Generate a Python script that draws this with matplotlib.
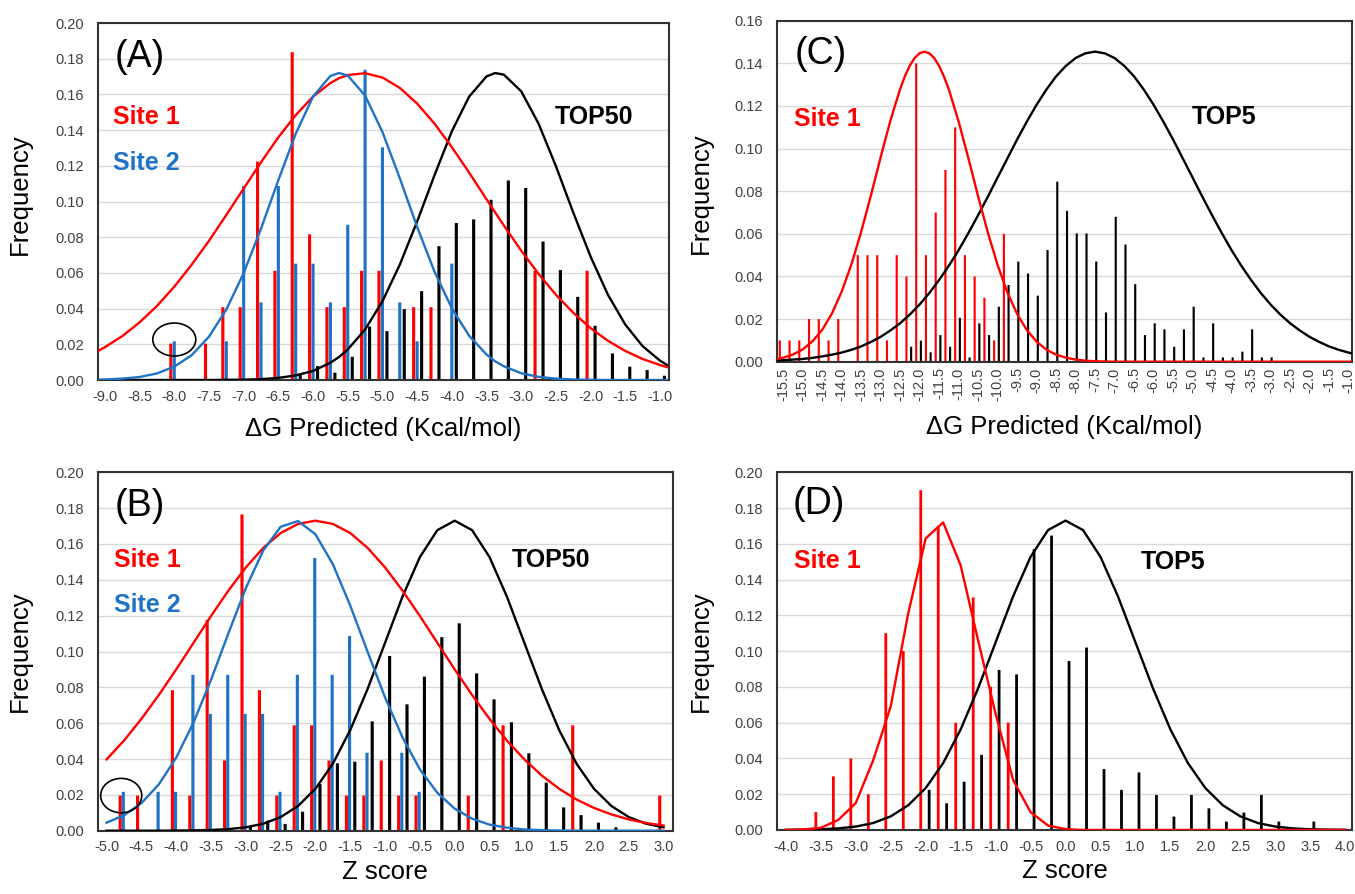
#! /bin/env python3
# plot.py
# four histogram panels (A-D) of docking scores with fitted curves on top

import numpy as np
import matplotlib
matplotlib.use("Agg")
import matplotlib.pyplot as plt
from matplotlib.patches import Ellipse

plt.rcParams['font.family'] = ['Liberation Sans', 'DejaVu Sans']

RED = '#ff0000'
BLUE = '#1f73c6'
BLACK = '#000000'

# ---------------- panel A : dG predicted, TOP50 ----------------
A_red_x = [-8.0, -7.5, -7.25, -7.0, -6.75, -6.5, -6.25, -6.0, -5.75, -5.5,
           -5.25, -5.0, -4.5, -4.25, -2.75, -2.0]
A_red_y = [0.0204, 0.0204, 0.0408, 0.0408, 0.1224, 0.0612, 0.1837, 0.0816, 0.0408, 0.0408,
           0.0612, 0.0612, 0.0408, 0.0408, 0.0612, 0.0612]
A_blue_x = [-8.0, -7.25, -7.0, -6.75, -6.5, -6.25, -6.0, -5.75, -5.5, -5.25,
            -5.0, -4.75, -4.5, -4.0]
A_blue_y = [0.0217, 0.0217, 0.1087, 0.0435, 0.1087, 0.0652, 0.0652, 0.0435, 0.0870, 0.1739,
            0.1304, 0.0435, 0.0217, 0.0652]
A_black_x = [-6.25, -6.0, -5.75, -5.5, -5.25, -5.0, -4.75, -4.5, -4.25, -4.0, -3.75,
             -3.5, -3.25, -3.0, -2.75, -2.5, -2.25, -2.0, -1.75, -1.5, -1.25, -1.0]
A_black_y = [0.0034, 0.0078, 0.0041, 0.0130, 0.0300, 0.0274, 0.0397, 0.0498, 0.0750, 0.0880, 0.0900,
             0.1010, 0.1118, 0.1076, 0.0776, 0.0616, 0.0466, 0.0304, 0.0149, 0.0075, 0.0056, 0.0024]

A_curve_x = [-9.1, -9.0, -8.75, -8.5, -8.25, -8.0, -7.75, -7.5, -7.25, -7.0, -6.75, -6.5,
             -6.25, -6.0, -5.75, -5.625, -5.5, -5.25, -5.0, -4.75, -4.5, -4.25, -4.0, -3.75, -3.5,
             -3.375, -3.25, -3.0, -2.75, -2.5, -2.25, -2.0, -1.75, -1.5, -1.25, -1.0, -0.9]
A_red_curve = [0.0163, 0.0184, 0.0246, 0.0323, 0.0415, 0.0523, 0.0646, 0.0780, 0.0925, 0.1073, 0.1220, 0.1360,
               0.1484, 0.1588, 0.1664, 0.1691, 0.1709, 0.1719, 0.1695, 0.1637, 0.1549, 0.1437, 0.1305, 0.1162, 0.1013,
               0.0939, 0.0866, 0.0725, 0.0595, 0.0478, 0.0377, 0.0291, 0.0220, 0.0163, 0.0118, 0.0084, 0.0073]
A_blue_curve = [0.0002, 0.0003, 0.0008, 0.0017, 0.0037, 0.0075, 0.0139, 0.0243, 0.0395, 0.0599, 0.0848, 0.1120,
                0.1380, 0.1588, 0.1704, 0.1720, 0.1706, 0.1594, 0.1390, 0.1131, 0.0858, 0.0608, 0.0402, 0.0248, 0.0143,
                0.0105, 0.0077, 0.0038, 0.0018, 0.0008, 0.0003, 0.0001, 0.0, 0.0, 0.0, 0.0, 0.0]
A_black_curve = [0.0, 0.0, 0.0, 0.0, 0.0, 0.0, 0.0, 0.0, 0.0001, 0.0002, 0.0005, 0.0012,
                 0.0026, 0.0051, 0.0097, 0.0129, 0.0171, 0.0283, 0.0441, 0.0646, 0.0888, 0.1147, 0.1393, 0.1588, 0.1701,
                 0.1720, 0.1711, 0.1618, 0.1437, 0.1199, 0.0939, 0.0692, 0.0478, 0.0311, 0.0190, 0.0109, 0.0085]

# ---------------- panel B : Z score, TOP50 ----------------
B_red_x = [-4.75, -4.5, -4.0, -3.75, -3.5, -3.25, -3.0, -2.75, -2.5, -2.25, -2.0,
           -1.75, -1.5, -1.25, -1.0, -0.75, -0.5, 0.25, 0.75, 1.75, 3.0]
B_red_y = [0.0196, 0.0196, 0.0784, 0.0196, 0.1176, 0.0392, 0.1765, 0.0784, 0.0196, 0.0588, 0.0588,
           0.0392, 0.0196, 0.0196, 0.0392, 0.0196, 0.0196, 0.0196, 0.0588, 0.0588, 0.0196]
B_blue_x = [-4.75, -4.25, -4.0, -3.75, -3.5, -3.25, -3.0, -2.75, -2.5, -2.25, -2.0,
            -1.75, -1.5, -1.25, -0.75, -0.5]
B_blue_y = [0.0217, 0.0217, 0.0217, 0.0870, 0.0652, 0.0870, 0.0652, 0.0652, 0.0217, 0.0870, 0.1522,
            0.0870, 0.1087, 0.0435, 0.0435, 0.0217]
B_black_x = [-3.0, -2.75, -2.5, -2.25, -2.0, -1.75, -1.5, -1.25, -1.0, -0.75, -0.5,
             -0.25, 0.0, 0.25, 0.5, 0.75, 1.0, 1.25, 1.5, 1.75, 2.0, 2.25]
B_black_y = [0.0022, 0.0056, 0.0037, 0.0106, 0.0260, 0.0376, 0.0385, 0.0610, 0.0975, 0.0705, 0.0860,
             0.1080, 0.1157, 0.0878, 0.0733, 0.0605, 0.0432, 0.0268, 0.0130, 0.0087, 0.0045, 0.0019]

B_curve_x = [-5.0, -4.75, -4.5, -4.25, -4.0, -3.75, -3.5, -3.25, -3.0, -2.75, -2.5, -2.25,
             -2.0, -1.75, -1.5, -1.25, -1.0, -0.75, -0.5, -0.25, 0.0, 0.25, 0.5, 0.75,
             1.0, 1.25, 1.5, 1.75, 2.0, 2.25, 2.5, 2.75, 3.0]
B_red_curve = [0.0398, 0.0503, 0.0624, 0.0757, 0.0900, 0.1049, 0.1198, 0.1340, 0.1469, 0.1578, 0.1661, 0.1712,
               0.1730, 0.1712, 0.1661, 0.1578, 0.1469, 0.1340, 0.1198, 0.1049, 0.0900, 0.0757, 0.0624, 0.0503,
               0.0398, 0.0308, 0.0234, 0.0174, 0.0127, 0.0091, 0.0063, 0.0043, 0.0029]
B_blue_curve = [0.0045, 0.0086, 0.0154, 0.0258, 0.0408, 0.0605, 0.0842, 0.1102, 0.1354, 0.1564, 0.1696, 0.1728,
                0.1654, 0.1487, 0.1256, 0.0997, 0.0743, 0.0521, 0.0342, 0.0212, 0.0123, 0.0067, 0.0034, 0.0017,
                0.0007, 0.0003, 0.0001, 0.0, 0.0, 0.0, 0.0, 0.0, 0.0]
B_black_curve = [0.0, 0.0, 0.0, 0.0, 0.0001, 0.0002, 0.0004, 0.0009, 0.0019, 0.0039, 0.0076, 0.0138,
                 0.0234, 0.0374, 0.0562, 0.0792, 0.1049, 0.1306, 0.1527, 0.1677, 0.1730, 0.1677, 0.1527, 0.1306,
                 0.1049, 0.0792, 0.0562, 0.0374, 0.0234, 0.0138, 0.0076, 0.0039, 0.0019]

# ---------------- panel C : dG predicted, TOP5 ----------------
C_red_x = [-15.5, -15.25, -15.0, -14.75, -14.5, -14.25, -14.0, -13.5, -13.25, -13.0, -12.75, -12.5,
           -12.25, -12.0, -11.75, -11.5, -11.25, -11.0, -10.75, -10.5, -10.25, -10.0, -9.75]
C_red_y = [0.01, 0.01, 0.01, 0.02, 0.02, 0.01, 0.02, 0.05, 0.05, 0.05, 0.01, 0.05,
           0.04, 0.14, 0.05, 0.07, 0.09, 0.11, 0.05, 0.04, 0.03, 0.01, 0.06]
C_black_x = [-12.25, -12.0, -11.75, -11.5, -11.25, -11.0, -10.75, -10.5, -10.25, -10.0,
             -9.75, -9.5, -9.25, -9.0, -8.75, -8.5, -8.25, -8.0, -7.75, -7.5,
             -7.25, -7.0, -6.75, -6.5, -6.25, -6.0, -5.75, -5.5, -5.25, -5.0,
             -4.75, -4.5, -4.25, -4.0, -3.75, -3.5, -3.25, -3.0]
C_black_y = [0.0070, 0.0099, 0.0044, 0.0125, 0.0070, 0.0206, 0.0020, 0.0180, 0.0125, 0.0258,
             0.0360, 0.0470, 0.0414, 0.0310, 0.0524, 0.0845, 0.0708, 0.0602, 0.0602, 0.0470,
             0.0231, 0.0680, 0.0550, 0.0364, 0.0125, 0.0180, 0.0152, 0.0070, 0.0152, 0.0258,
             0.0020, 0.0180, 0.0020, 0.0020, 0.0047, 0.0152, 0.0020, 0.0020]

C_red_curve_x = [-15.65, -15.5, -15.25, -15.0, -14.75, -14.5, -14.25, -14.0, -13.75, -13.5, -13.25, -13.0,
                 -12.75, -12.5, -12.375, -12.25, -12.125, -12.0, -11.875, -11.75, -11.625, -11.5, -11.375,
                 -11.25, -11.0, -10.75, -10.5, -10.25, -10.0,
                 -9.75, -9.5, -9.25, -9.0, -8.75, -8.5, -8.25, -8.0, -7.75, -7.5, -7.25, -7.0, -0.9]
C_red_curve = [0.0013, 0.0019, 0.0034, 0.0058, 0.0096, 0.0150, 0.0227, 0.0330, 0.0458, 0.0611, 0.0782, 0.0961,
               0.1133, 0.1281, 0.1342, 0.1391, 0.1426, 0.1448, 0.1455, 0.1447, 0.1424, 0.1387, 0.1337,
               0.1276, 0.1126, 0.0954, 0.0775, 0.0605, 0.0453,
               0.0325, 0.0224, 0.0148, 0.0094, 0.0057, 0.0033, 0.0019, 0.0010, 0.0005, 0.0002, 0.0001, 0.0, 0.0]
C_black_curve_x = [-15.65, -15.5, -15.25, -15.0, -14.75, -14.5, -14.25, -14.0, -13.75, -13.5, -13.25, -13.0,
                   -12.75, -12.5, -12.25, -12.0, -11.75, -11.5, -11.25, -11.0, -10.75, -10.5, -10.25, -10.0,
                   -9.75, -9.5, -9.25, -9.0, -8.75, -8.5, -8.25, -8.0, -7.75, -7.5, -7.25, -7.0,
                   -6.75, -6.5, -6.25, -6.0, -5.75, -5.5, -5.25, -5.0, -4.75, -4.5, -4.25, -4.0,
                   -3.75, -3.5, -3.25, -3.0, -2.75, -2.5, -2.25, -2.0, -1.75, -1.5, -1.25, -1.0, -0.9]
C_black_curve = [0.0006, 0.0007, 0.0010, 0.0013, 0.0018, 0.0025, 0.0033, 0.0043, 0.0056, 0.0072, 0.0093, 0.0117,
                 0.0147, 0.0181, 0.0222, 0.0269, 0.0323, 0.0384, 0.0451, 0.0524, 0.0604, 0.0688, 0.0775, 0.0865,
                 0.0954, 0.1043, 0.1127, 0.1206, 0.1277, 0.1339, 0.1388, 0.1425, 0.1447, 0.1455, 0.1447, 0.1425,
                 0.1388, 0.1339, 0.1277, 0.1206, 0.1127, 0.1043, 0.0954, 0.0865, 0.0775, 0.0688, 0.0604, 0.0524,
                 0.0451, 0.0384, 0.0323, 0.0269, 0.0222, 0.0181, 0.0147, 0.0117, 0.0093, 0.0072, 0.0056, 0.0043, 0.0039]

# ---------------- panel D : Z score, TOP5 ----------------
D_red_x = [-3.5, -3.25, -3.0, -2.75, -2.5, -2.25, -2.0, -1.75, -1.5, -1.25, -1.0, -0.75]
D_red_y = [0.01, 0.03, 0.04, 0.02, 0.11, 0.10, 0.19, 0.17, 0.06, 0.13, 0.08, 0.06]
D_black_x = [-2.0, -1.75, -1.5, -1.25, -1.0, -0.75, -0.5, -0.25, 0.0, 0.25, 0.5,
             0.75, 1.0, 1.25, 1.5, 1.75, 2.0, 2.25, 2.5, 2.75, 3.0, 3.5]
D_black_y = [0.0224, 0.0149, 0.0270, 0.0420, 0.0895, 0.0870, 0.1570, 0.1646, 0.0945, 0.1020, 0.0341,
             0.0224, 0.0322, 0.0196, 0.0075, 0.0196, 0.0121, 0.0047, 0.0097, 0.0196, 0.0047, 0.0047]

D_curve_x = [-4.0, -3.75, -3.5, -3.25, -3.0, -2.75, -2.5, -2.25, -2.0, -1.75, -1.5, -1.25,
             -1.0, -0.75, -0.5, -0.25, 0.0, 0.25, 0.5, 0.75, 1.0, 1.25, 1.5, 1.75,
             2.0, 2.25, 2.5, 2.75, 3.0, 3.25, 3.5, 3.75, 4.0]
D_red_curve = [0.0, 0.0003, 0.0012, 0.0056, 0.0150, 0.0390, 0.0690, 0.1210, 0.1630, 0.1720, 0.1480, 0.1060,
               0.0650, 0.0280, 0.0100, 0.0025, 0.0005, 0.0, 0.0, 0.0, 0.0, 0.0, 0.0, 0.0,
               0.0, 0.0, 0.0, 0.0, 0.0, 0.0, 0.0, 0.0, 0.0]
D_black_curve = [0.0001, 0.0002, 0.0004, 0.0009, 0.0019, 0.0039, 0.0076, 0.0138, 0.0234, 0.0374, 0.0562, 0.0792,
                 0.1049, 0.1306, 0.1527, 0.1677, 0.1730, 0.1677, 0.1527, 0.1306, 0.1049, 0.0792, 0.0562, 0.0374,
                 0.0234, 0.0138, 0.0076, 0.0039, 0.0019, 0.0009, 0.0004, 0.0002, 0.0001]


'''
    ax = axes to style
    xlim = limits of the x axis
    xticks = tick locations on x
    ymax = top of the y axis
    rotate = rotate x tick labels (panel C)
Excel-like look: no tick marks, light horizontal grid, dark frame
'''
def style_axes(ax, xlim, xticks, ymax, rotate=False):
    ax.set_xlim(*xlim)
    ax.set_ylim(0, ymax)
    ax.set_xticks(xticks)
    ax.set_xticklabels(["%.1f" % (round(t, 2) + 0.0) for t in xticks])
    yt = np.arange(0, ymax + 0.001, 0.02)
    ax.set_yticks(yt)
    ax.set_yticklabels(["%.2f" % t for t in yt])
    ax.yaxis.grid(True, color='#d9d9d9', linewidth=1)
    ax.set_axisbelow(True)
    ax.tick_params(length=0, labelsize=10.5, labelcolor='#404040')
    ax.tick_params(axis='y', pad=10)
    if rotate:
        ax.tick_params(axis='x', labelrotation=90, pad=4)
    else:
        ax.tick_params(axis='x', pad=7)
    for s in ax.spines.values():
        s.set_color('#333333')
        s.set_linewidth(1.5)


# thin vertical bars; no pixel snapping so every bar gets the same width
def bars(ax, x, y, off, width, color):
    ax.bar(np.array(x) + off, y, width=width, color=color, linewidth=0, zorder=2, snap=False)


def curve(ax, x, y, color):
    ax.plot(x, y, color=color, linewidth=1.7, zorder=3, solid_joinstyle='round')


def labels(ax, xlabel, xl_y, yl_x, yl_y):
    ax.set_xlabel(xlabel, fontsize=18.5)
    ax.xaxis.set_label_coords(0.5, xl_y)
    ax.set_ylabel("Frequency", fontsize=18.5)
    ax.yaxis.set_label_coords(yl_x, yl_y)


def tag(ax, x, y, s, color=BLACK, size=18, bold=True):
    ax.text(x, y, s, transform=ax.transAxes, color=color, fontsize=size,
            fontweight='bold' if bold else 'normal', va='center', ha='left')


def main():
    fig = plt.figure(figsize=(13.55, 8.94), dpi=100)
    dg = "\u0394G Predicted (Kcal/mol)"

    # (A)
    ax = fig.add_axes([0.0723, 0.5749, 0.4214, 0.3993])
    style_axes(ax, (-9.1, -0.87), np.arange(-9.0, -0.99, 0.5), 0.20)
    bars(ax, A_red_x, A_red_y, -0.05, 0.045, RED)
    bars(ax, A_blue_x, A_blue_y, 0.0, 0.045, BLUE)
    bars(ax, A_black_x, A_black_y, 0.065, 0.045, BLACK)
    curve(ax, A_curve_x, A_black_curve, BLACK)
    curve(ax, A_curve_x, A_red_curve, RED)
    curve(ax, A_curve_x, A_blue_curve, BLUE)
    ax.add_patch(Ellipse((-8.0, 0.0227), 0.62, 0.0185, fill=False, edgecolor=BLACK, linewidth=1.2, zorder=4))
    tag(ax, 0.030, 0.905, "(A)", size=27, bold=False)
    tag(ax, 0.026, 0.737, "Site 1", RED)
    tag(ax, 0.026, 0.608, "Site 2", BLUE)
    tag(ax, 0.80, 0.737, "TOP50")
    labels(ax, dg, -0.104, -0.1156, 0.52)

    # (B)
    ax = fig.add_axes([0.0725, 0.0708, 0.4239, 0.4009])
    style_axes(ax, (-5.12, 3.13), np.arange(-5.0, 3.01, 0.5), 0.20)
    bars(ax, B_red_x, B_red_y, -0.055, 0.045, RED)
    bars(ax, B_blue_x, B_blue_y, -0.01, 0.045, BLUE)
    bars(ax, B_black_x, B_black_y, 0.065, 0.045, BLACK)
    curve(ax, B_curve_x, B_black_curve, BLACK)
    curve(ax, B_curve_x, B_red_curve, RED)
    curve(ax, B_curve_x, B_blue_curve, BLUE)
    ax.add_patch(Ellipse((-4.79, 0.0196), 0.59, 0.0192, fill=False, edgecolor=BLACK, linewidth=1.2, zorder=4))
    tag(ax, 0.029, 0.905, "(B)", size=27, bold=False)
    tag(ax, 0.027, 0.755, "Site 1", RED)
    tag(ax, 0.027, 0.63, "Site 2", BLUE)
    tag(ax, 0.72, 0.755, "TOP50")
    labels(ax, "Z score", -0.082, -0.115, 0.5)

    # (C)
    ax = fig.add_axes([0.5732, 0.5954, 0.4248, 0.3814])
    style_axes(ax, (-15.67, -0.90), np.arange(-15.5, -0.99, 0.5), 0.16, rotate=True)
    bars(ax, C_red_x, C_red_y, -0.09, 0.055, RED)
    bars(ax, C_black_x, C_black_y, 0.03, 0.055, BLACK)
    curve(ax, C_black_curve_x, C_black_curve, BLACK)
    curve(ax, C_red_curve_x, C_red_curve, RED)
    tag(ax, 0.032, 0.901, "(C)", size=27, bold=False)
    tag(ax, 0.030, 0.712, "Site 1", RED)
    tag(ax, 0.721, 0.7185, "TOP5")
    labels(ax, dg, -0.157, -0.1107, 0.495)

    # (D)
    ax = fig.add_axes([0.5732, 0.0716, 0.4248, 0.4001])
    style_axes(ax, (-4.13, 4.10), np.arange(-4.0, 4.01, 0.5), 0.20)
    bars(ax, D_red_x, D_red_y, -0.07, 0.04, RED)
    bars(ax, D_black_x, D_black_y, 0.05, 0.04, BLACK)
    curve(ax, D_curve_x, D_black_curve, BLACK)
    curve(ax, D_curve_x, D_red_curve, RED)
    tag(ax, 0.028, 0.91, "(D)", size=27, bold=False)
    tag(ax, 0.030, 0.752, "Site 1", RED)
    tag(ax, 0.632, 0.75, "TOP5")
    labels(ax, "Z score", -0.082, -0.1107, 0.5)

    fig.savefig("out.png", dpi=100)


if __name__ == "__main__":
    main()
